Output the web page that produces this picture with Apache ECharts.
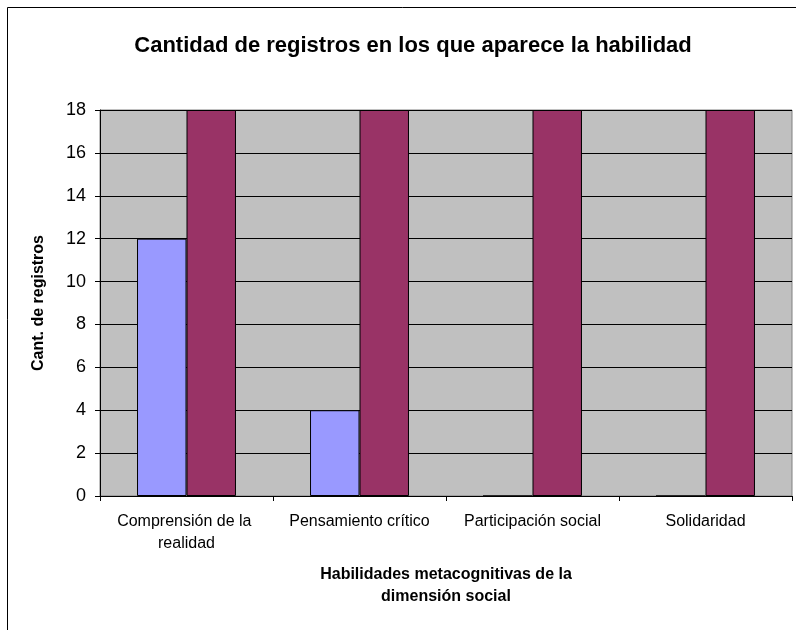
<!DOCTYPE html>
<html>
<head>
<meta charset="utf-8">
<script src="https://cdn.jsdelivr.net/npm/echarts@6/dist/echarts.min.js"></script>
<style>
html,body{margin:0;padding:0;background:#fff;}
#chart{width:796px;height:630px;}
</style>
</head>
<body>
<div id="chart"></div>
<script>
const categories = ['Comprensión de la realidad', 'Pensamiento crítico', 'Participación social', 'Solidaridad'];
const seriesA = [12, 4, 0, 0];
const seriesB = [18, 18, 18, 18];
const yTicks = { min: 0, max: 18, interval: 2 };
const titleText = 'Cantidad de registros en los que aparece la habilidad';
const xAxisName = 'Habilidades metacognitivas de la\ndimensión social';
const yAxisName = 'Cant. de registros';

const FONT = '"Liberation Sans", Arial, sans-serif';
const chart = echarts.init(document.getElementById('chart'), null, { renderer: 'canvas' });
chart.setOption({
  animation: false,
  backgroundColor: '#ffffff',
  textStyle: { fontFamily: FONT },
  title: {
    text: titleText,
    left: 408, textAlign: 'center', top: 30,
    textStyle: { fontFamily: FONT, fontSize: 22, fontWeight: 'bold', color: '#000' }
  },
  graphic: [
    { type: 'rect', shape: { x: 7.5, y: 7.5, width: 900, height: 900 }, style: { fill: null, stroke: '#000', lineWidth: 1 }, z: 100 },
    { type: 'rect', shape: { x: 100, y: 110, width: 692, height: 386 }, style: { fill: '#C0C0C0', stroke: '#808080', lineWidth: 1 }, z: -10 }
  ],
  grid: { left: 100, top: 110, width: 692, height: 386, containLabel: false },
  xAxis: {
    type: 'category',
    data: categories,
    axisLine: { show: true, lineStyle: { color: '#000', width: 1 } },
    axisTick: { show: true, alignWithLabel: false, length: 5, lineStyle: { color: '#000' } },
    axisLabel: {
      color: '#000', fontSize: 16, fontFamily: FONT, margin: 15, lineHeight: 22,
      width: 165, overflow: 'break', interval: 0
    },
    name: xAxisName,
    nameLocation: 'middle',
    nameGap: 68,
    nameTextStyle: { color: '#000', fontSize: 16, fontWeight: 'bold', fontFamily: FONT, lineHeight: 22 }
  },
  yAxis: {
    type: 'value',
    min: yTicks.min, max: yTicks.max, interval: yTicks.interval,
    axisLine: { show: true, lineStyle: { color: '#000', width: 1 } },
    axisTick: { show: true, length: 5, lineStyle: { color: '#000' } },
    axisLabel: { color: '#000', fontSize: 18, fontFamily: FONT, margin: 14 },
    splitLine: { show: true, lineStyle: { color: '#000', width: 1 } },
    name: yAxisName,
    nameLocation: 'middle',
    nameGap: 53,
    nameTextStyle: { color: '#000', fontSize: 16, fontWeight: 'bold', fontFamily: FONT }
  },
  series: [
    {
      type: 'bar', name: 'A', data: seriesA,
      barGap: '0%', barCategoryGap: '42.8%',
      itemStyle: { color: '#9999FF', borderColor: '#000', borderWidth: 1 }
    },
    {
      type: 'bar', name: 'B', data: seriesB,
      barGap: '0%', barCategoryGap: '42.8%',
      itemStyle: { color: '#993366', borderColor: '#000', borderWidth: 1 }
    }
  ]
});
</script>
</body>
</html>
